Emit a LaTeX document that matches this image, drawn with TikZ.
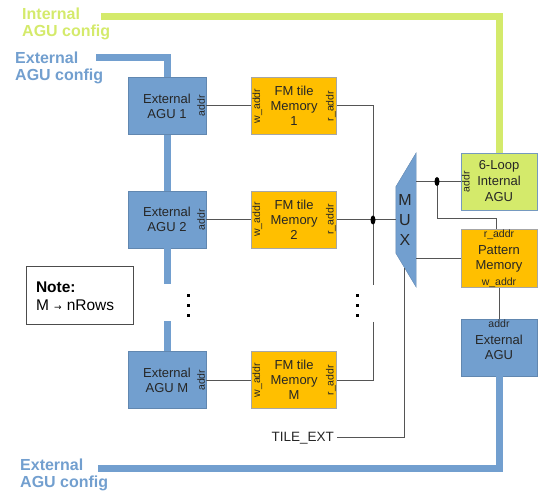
\documentclass[tikz,border=0pt]{standalone}
\usepackage{fontspec}
\setmainfont{Liberation Sans}
\newfontfamily\arrowfont{DejaVu Sans}
\usetikzlibrary{positioning}

\definecolor{agublue}{HTML}{729FCF}
\definecolor{memgold}{HTML}{FFBF00}
\definecolor{cfglime}{HTML}{D4EA6B}
\definecolor{wiregray}{HTML}{555555}

\tikzset{
  box/.style={line width=0.6pt, minimum height=57pt, inner sep=0pt, align=center,
    font=\fontsize{13}{15}\selectfont, text=black!85},
  agu/.style={box, fill=agublue, draw=agublue!85!black, minimum width=78pt},
  fmmem/.style={box, fill=memgold, draw=gray!70, minimum width=85pt},
  intagu/.style={box, fill=cfglime, draw=agublue!80!gray, minimum width=76pt, font=\fontsize{13}{16}\selectfont},
  portlbl/.style={inner sep=1pt, font=\fontsize{10.5}{11}\selectfont, text=black!85},
  wire/.style={draw=wiregray, line width=1pt},
  bus/.style={draw=#1, line width=7pt},
  cfglbl/.style={anchor=north west, inner sep=0pt, align=left, text=#1,
    font=\bfseries\fontsize{16}{17}\selectfont},
}

\begin{document}
\begin{tikzpicture}[x=1pt, y=-1pt]
  \useasboundingbox (0,0) rectangle (539,494);

  \node[agu]                      (agu1) at (167,106) {External\\AGU 1};
  \node[agu, below=56pt of agu1]  (agu2) {External\\AGU 2};
  \node[agu, below=103pt of agu2] (aguM) {External\\AGU M};

  \node[fmmem, right=45pt of agu1] (fm1) {FM tile\\Memory\\1};
  \node[fmmem, right=45pt of agu2] (fm2) {FM tile\\Memory\\2};
  \node[fmmem, right=45pt of aguM] (fmM) {FM tile\\Memory\\M};

  \node[intagu]                                       (int) at (499,181.5) {6-Loop\\Internal\\AGU};
  \node[box, fill=memgold, draw=gray!70, minimum width=76pt, minimum height=58pt,
        below=19pt of int]                            (pat) {Pattern\\Memory};
  \node[agu, minimum width=76pt, below=31pt of pat]   (ext) {External\\AGU};

  \foreach \n in {agu1, agu2, aguM} {
    \node[portlbl, rotate=90, anchor=south] (\n-addr) at (\n.east) {addr};
  }
  \foreach \n in {fm1, fm2, fmM} {
    \node[portlbl, rotate=90, anchor=north] (\n-w) at (\n.west) {w\_addr};
    \node[portlbl, rotate=90, anchor=south] (\n-r) at (\n.east) {r\_addr};
  }
  \node[portlbl, rotate=90, anchor=north] (int-addr) at (int.west) {addr};
  \node[portlbl, anchor=north, inner sep=0.5pt] (pat-r) at (pat.north) {r\_addr};
  \node[portlbl, anchor=south, inner sep=0.5pt] (pat-w) at (pat.south) {w\_addr};
  \node[portlbl, anchor=north, inner sep=0.5pt] (ext-addr) at (ext.north) {addr};

  \node[minimum width=20pt, minimum height=134pt, inner sep=0pt] (mux) at (406,220) {};
  \fill[agublue, draw=agublue!85!black, line width=0.4pt]
    (mux.north east) -- (mux.south east) -- ([yshift=34pt]mux.south west)
    -- ([yshift=-34pt]mux.north west) -- cycle;
  \node[inner sep=0pt, align=center, font=\fontsize{16}{20}\selectfont, text=black!85]
    (muxlbl) at ([xshift=-1pt]mux.center) {M\\U\\X};

  \node[draw=black!70, line width=1pt, minimum width=107pt, minimum height=58pt,
        text width=87pt, align=left, font=\fontsize{15.5}{18.5}\selectfont]
    (note) at (79.5,296) {\textbf{Note:}\\M {\arrowfont\fontsize{9}{9}\selectfont →} nRows};

  \node[anchor=east, inner sep=3pt, font=\fontsize{13.5}{15}\selectfont, text=black!85]
    (tile) at (337,438) {TILE\_EXT};

  \node[cfglbl=cfglime]  (intcfg)  at (22,8)   {Internal\\AGU config};
  \node[cfglbl=agublue]  (extcfg1) at (15,52)  {External\\AGU config};
  \node[cfglbl=agublue]  (extcfg2) at (20,459) {External\\AGU config};

  \coordinate (intcfg-end)  at (101,16.5);
  \coordinate (extcfg1-end) at (96,58);
  \coordinate (extcfg2-end) at (98,469);
  \coordinate (bus)  at (373,220);
  \coordinate (jout) at (437,181.5);

  \draw[bus=cfglime] (intcfg-end) -| (int.north);
  \draw[bus=agublue] (extcfg1-end) -| (agu1.north);
  \draw[bus=agublue] (agu1.south) -- (agu2.north);
  \draw[bus=agublue] (agu2.south) -- ([yshift=-36pt]agu2.south);
  \draw[bus=agublue] ([yshift=30pt]aguM.north) -- (aguM.north);
  \draw[bus=agublue] (extcfg2-end) -| (ext.south);

  \draw[wire] (agu1.east) -- (fm1.west);
  \draw[wire] (agu2.east) -- (fm2.west);
  \draw[wire] (aguM.east) -- (fmM.west);
  \draw[wire] (fm1.east) -| ([yshift=-65pt]bus);
  \draw[wire] ([yshift=-102pt]bus) |- (fmM.east);
  \draw[wire] (fm2.east) -- (fm2.east -| mux.west);
  \draw[wire] (mux.east |- int.west) -- (int.west);
  \draw[wire] (mux.east |- pat.west) -- (pat.west);
  \draw[wire] (jout) |- ([xshift=-3pt, yshift=11pt]pat.north) -- ([xshift=-3pt]pat.north);
  \draw[wire] (pat.south) -- (ext.north);
  \draw[wire] (tile.east) -| ([xshift=-2pt, yshift=19pt]mux.south);

  \fill (bus) ellipse (2.5 and 4.5);
  \fill (jout) ellipse (2.5 and 4.5);

  \foreach \yy in {293,303,313} {
    \fill (186.5,\yy+1.5) rectangle ++(3,3);
    \fill (355.5,\yy+1.5) rectangle ++(3,3);
  }
\end{tikzpicture}
\end{document}
